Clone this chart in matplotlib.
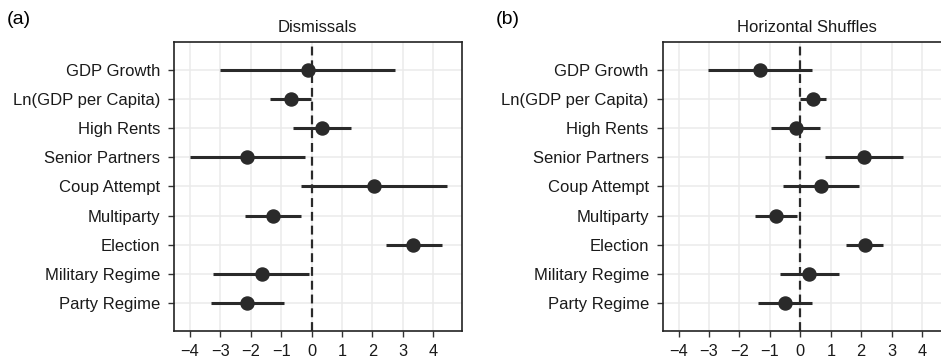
import numpy as np
import matplotlib
matplotlib.use("Agg")
import matplotlib.pyplot as plt

plt.rcParams['font.family'] = ['Liberation Sans', 'DejaVu Sans']

# variables, top to bottom
variables = ["GDP Growth", "Ln(GDP per Capita)", "High Rents", "Senior Partners",
             "Coup Attempt", "Multiparty", "Election", "Military Regime", "Party Regime"]

# (a) Dismissals
dism_est = [-0.12, -0.67, 0.35, -2.12, 2.05, -1.27, 3.34, -1.64, -2.12]
dism_lo = [-3.00, -1.37, -0.60, -3.98, -0.36, -2.20, 2.44, -3.25, -3.32]
dism_hi = [2.74, -0.01, 1.28, -0.23, 4.46, -0.36, 4.30, -0.07, -0.91]

# (b) Horizontal Shuffles
shuf_est = [-1.32, 0.42, -0.14, 2.08, 0.69, -0.79, 2.12, 0.30, -0.49]
shuf_lo = [-3.04, 0.00, -0.95, 0.80, -0.58, -1.48, 1.51, -0.66, -1.40]
shuf_hi = [0.38, 0.83, 0.66, 3.37, 1.94, -0.11, 2.72, 1.26, 0.38]

xticks = [-4, -3, -2, -1, 0, 1, 2, 3, 4]
xtick_labels = ["\u22124", "\u22123", "\u22122", "\u22121", "0", "1", "2", "3", "4"]

ink = "#2a2a2a"


def draw_panel(ax, est, lo, hi, title):
    ypos = np.arange(len(variables), 0, -1)
    for y in ypos:
        ax.axhline(y, color="#ebebeb", lw=1.1, zorder=0)
    for x in xticks:
        ax.axvline(x, color="#ebebeb", lw=1.1, zorder=0)
    ax.axvline(0, color=ink, lw=1.6, ls=(0, (4, 2.2)), zorder=1)
    ax.hlines(ypos, lo, hi, color=ink, lw=2.2, zorder=2)
    ax.plot(est, ypos, "o", color=ink, ms=9.4, zorder=3)
    ax.set_xlim(-4.52, 4.93)
    ax.set_ylim(0.02, 9.98)
    ax.set_yticks(ypos)
    ax.set_yticklabels(variables, fontsize=12, color="#1a1a1a")
    ax.set_xticks(xticks)
    ax.set_xticklabels(xtick_labels, fontsize=11.8, color="#1a1a1a")
    ax.tick_params(axis="y", length=4, width=1, color="#333333", pad=6)
    ax.tick_params(axis="x", length=4, width=1, color="#333333", pad=5)
    for s in ax.spines.values():
        s.set_color("#222222")
        s.set_linewidth(1.2)
    ax.set_title(title, fontsize=12, pad=7, color="#1a1a1a")


fig = plt.figure(figsize=(9.41, 3.61), dpi=100)
ax1 = fig.add_axes([0.1849, 0.0831, 0.3057, 0.8006])
ax2 = fig.add_axes([0.7043, 0.0831, 0.3057, 0.8006])

draw_panel(ax1, dism_est, dism_lo, dism_hi, "Dismissals")
draw_panel(ax2, shuf_est, shuf_lo, shuf_hi, "Horizontal Shuffles")

fig.text(0.007, 0.945, "(a)", fontsize=14, va="center", ha="left")
fig.text(0.527, 0.945, "(b)", fontsize=14, va="center", ha="left")

fig.savefig("out.png", dpi=100)
